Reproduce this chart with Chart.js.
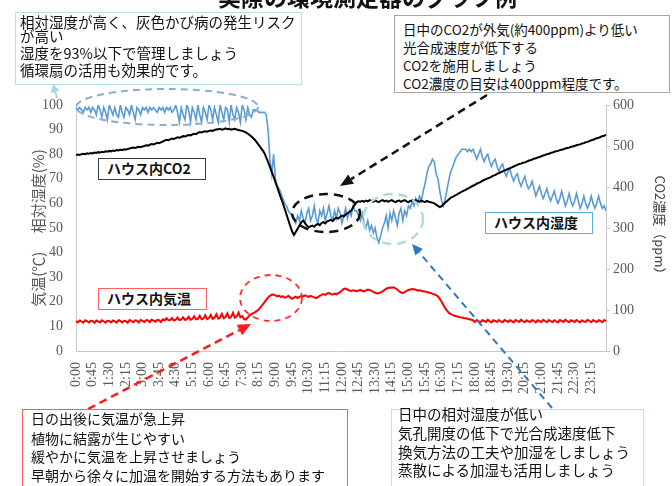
<!DOCTYPE html>
<html><head><meta charset="utf-8">
<script src="https://cdn.jsdelivr.net/npm/chart.js@4.4.1/dist/chart.umd.min.js"></script>
<style>
html,body{margin:0;padding:0;background:#fff;width:672px;height:486px;overflow:hidden;position:relative;font-family:"Noto Sans CJK JP",sans-serif;}
#c{position:absolute;left:0;top:0;}
.title{position:absolute;left:218px;top:-15px;font-size:23px;line-height:23px;font-weight:bold;color:#111;white-space:nowrap;}
.box{position:absolute;background:#fff;box-sizing:border-box;color:#111;}
.box .ln{position:absolute;white-space:nowrap;}
.lg{position:absolute;background:#fff;box-sizing:border-box;font-weight:bold;font-size:14px;line-height:19px;color:#111;white-space:nowrap;}
</style></head>
<body>
<canvas id="c" width="672" height="486"></canvas>
<div class="title">実際の環境測定器のグラフ例</div>

<div class="box" style="left:15px;top:12px;width:287px;height:73px;border:1.5px solid #b9dfe8;font-size:14.5px;">
 <div class="ln" style="left:4px;top:1px;line-height:16px;">相対湿度が高く、灰色かび病の発生リスク</div>
 <div class="ln" style="left:4px;top:15px;line-height:16px;">が高い</div>
 <div class="ln" style="left:4px;top:32px;line-height:16px;">湿度を93%以下で管理しましょう</div>
 <div class="ln" style="left:4px;top:49px;line-height:16px;">循環扇の活用も効果的です。</div>
</div>

<div class="box" style="left:394px;top:15px;width:276px;height:78px;border:1px solid #a6a6a6;font-size:13.5px;">
 <div class="ln" style="left:8px;top:5px;line-height:16px;">日中のCO2が外気(約400ppm)より低い</div>
 <div class="ln" style="left:8px;top:23px;line-height:16px;">光合成速度が低下する</div>
 <div class="ln" style="left:8px;top:41px;line-height:16px;">CO2を施用しましょう</div>
 <div class="ln" style="left:8px;top:59px;line-height:16px;">CO2濃度の目安は400ppm程度です。</div>
</div>

<div class="box" style="left:22px;top:409px;width:326px;height:90px;border:1.5px solid #ff5b5b;font-size:14px;">
 <div class="ln" style="left:8px;top:-1px;line-height:18px;">日の出後に気温が急上昇</div>
 <div class="ln" style="left:8px;top:19px;line-height:18px;">植物に結露が生じやすい</div>
 <div class="ln" style="left:8px;top:37px;line-height:18px;">緩やかに気温を上昇させましょう</div>
 <div class="ln" style="left:8px;top:56px;line-height:18px;">早朝から徐々に加温を開始する方法もあります</div>
</div>

<div class="box" style="left:391px;top:409px;width:253px;height:90px;border:1.5px solid #bfe0e8;font-size:14.5px;">
 <div class="ln" style="left:6px;top:-5px;line-height:18px;">日中の相対湿度が低い</div>
 <div class="ln" style="left:6px;top:14px;line-height:18px;">気孔開度の低下で光合成速度低下</div>
 <div class="ln" style="left:6px;top:33px;line-height:18px;">換気方法の工夫や加湿をしましょう</div>
 <div class="ln" style="left:6px;top:51px;line-height:18px;">蒸散による加湿も活用しましょう</div>
</div>

<div class="lg" style="left:98px;top:158px;width:108px;height:22px;border:1.5px solid #3a3a3a;padding-left:8px;">ハウス内CO2</div>
<div class="lg" style="left:98px;top:288px;width:109px;height:22px;border:1.5px solid #ff6060;padding-left:8px;">ハウス内気温</div>
<div class="lg" style="left:485px;top:212px;width:108px;height:22px;border:1.5px solid #5aaee0;padding-left:8px;">ハウス内湿度</div>

<script>
// Tick labels shown every 45 minutes
const tickLabels = ['0:00','0:45','1:30','2:15','3:00','3:45','4:30','5:15','6:00','6:45','7:30','8:15','9:00','9:45','10:30','11:15','12:00','12:45','13:30','14:15','15:00','15:45','16:30','17:15','18:00','18:45','19:30','20:15','21:00','21:45','22:30','23:15'];

// Relative humidity (%), 5-minute readings
const humidity = [
 99,98,99,98,97,99,98,99,97,99,98,96,
 100,98,95,99,97,94,100,98,96,99,96,95,100,97,95,99,98,96,100,97,94,99,98,96,
 99,98,99,97,99,98,99,98,97,99,98,99,97,99,98,99,97,98,
 100,97,93,99,96,94,100,98,93,99,97,94,100,96,93,99,97,94,100,98,94,99,96,93,100,97,94,99,98,93,100,96,94,99,97,93,100,98,94,99,96,95,
 98,98,98,97,97,97,97,96,
 90,78,72,80,70,67,66,64,62,60,59,57,56,55,54,
 52,55,53,57,54,52,56,58,53,55,59,54,52,57,55,58,53,56,59,55,53,57,54,58,56,52,55,58,54,57,55,59,57,
 57,55,53,56,52,50,53,49,51,48,50,46,44,47,50,
 52,55,50,56,53,57,54,51,56,58,53,57,55,59,
 58,61,59,62,60,63,61,65,
 68,72,75,76,78,77,72,70,65,61,59,62,66,70,73,75,77,79,80,81,82,82,82,81,82,81,
 82,80,78,80,82,79,77,79,80,77,75,77,78,75,73,75,
 76,73,71,73,74,71,69,71,72,69,67,69,71,68,66,67,
 69,66,63,65,67,64,62,64,66,63,61,63,65,62,60,62,
 65,62,59,61,64,61,59,61,64,61,58,60,63,60,58,60,
 63,60,58,60,63,60,58,59,57
];

// House CO2 (ppm), 5-minute readings
const co2 = [
 478,479,478,480,481,480,482,481,483,482,484,483,485,484,486,485,487,486,488,487,489,488,490,489,491,490,492,491,493,494,495,
 496,495,497,498,497,499,500,502,501,503,505,504,506,508,507,509,511,513,515,
 514,516,518,517,519,521,520,522,524,523,525,527,526,528,530,529,532,534,
 533,535,536,535,537,538,537,539,540,541,
 542,540,541,543,541,542,540,541,542,540,539,
 538,537,535,533,530,527,523,
 519,514,508,502,496,490,483,472,461,449,437,425,412,399,386,373,361,347,333,319,305,292,283,
 290,298,306,314,318,312,306,302,304,306,303,308,310,307,312,314,311,316,318,320,317,322,325,323,327,330,328,333,336,339,342,350,357,363,365,364,
 366,364,367,365,368,366,364,367,365,363,366,368,365,367,364,366,368,365,363,366,367,364,366,368,365,363,366,367,365,368,366,364,367,365,363,366,364,363,362,
 360,357,354,351,353,358,362,366,370,374,
 376,379,381,384,386,389,391,393,396,398,401,403,405,408,410,412,415,417,
 419,421,423,425,428,429,432,434,436,438,440,442,444,446,448,450,452,454,
 456,457,459,460,462,464,465,467,469,470,472,473,475,477,478,480,481,483,
 484,486,487,488,490,491,492,494,495,496,498,499,500,502,503,504,506,507,
 509,510,512,514,515,517,519,520,522,524,525,527
];

// House air temperature (°C), 5-minute readings
const temperature = [
 12.2,11.6,12.4,12.0,11.5,12.5,12.1,11.6,12.3,12.2,11.5,12.4,12.0,11.6,12.5,12.1,11.5,12.3,12.2,11.6,12.4,12.0,11.5,12.5,
 12.2,11.6,12.3,12.1,11.5,12.6,12.2,11.7,12.5,12.3,11.6,12.7,12.2,11.8,12.6,12.4,11.7,12.8,12.3,11.9,12.7,12.5,11.8,12.9,
 12.4,13.3,12.5,12.6,13.4,12.4,12.7,13.6,12.6,12.8,13.7,12.7,12.9,13.9,12.7,13.0,14.1,12.9,13.1,14.3,12.9,
 13.2,14.5,13.0,13.4,14.7,13.1,13.5,14.9,13.2,13.6,15.1,13.3,13.8,15.3,13.4,13.9,15.5,13.6,14.0,15.6,13.7,
 14.2,13.0,12.8,13.6,14.5,15.0,
 15.4,15.8,16.3,17.0,17.8,18.8,19.8,20.8,21.7,22.4,22.9,23.0,
 22.6,22.2,22.5,21.9,22.3,21.6,22.0,22.4,21.8,21.2,21.7,22.1,21.5,
 22.0,22.4,22.2,22.6,22.3,22.0,22.4,22.1,21.8,21.5,21.9,22.4,22.8,23.1,22.8,23.4,23.6,23.2,22.9,23.3,
 23.0,23.5,23.9,24.6,25.2,25.4,25.0,24.6,24.4,24.7,24.5,24.3,24.6,24.8,24.5,24.2,24.6,25.0,24.8,24.4,
 24.0,23.7,23.4,23.6,23.8,24.2,24.8,25.3,25.6,25.8,25.7,25.9,25.5,25.0,24.3,23.8,23.6,23.9,24.4,24.8,
 25.0,25.2,25.1,24.9,24.6,24.7,24.5,24.3,24.2,24.0,23.8,23.6,
 23.2,23.0,22.7,22.2,21.2,20.0,18.6,17.3,16.3,15.5,15.0,14.6,14.3,14.1,13.9,13.7,13.6,13.4,13.3,13.1,12.9,12.7,12.5,
 11.8,12.6,12.1,11.7,12.5,12.2,11.8,12.7,12.1,11.6,12.5,12.2,11.8,12.6,12.0,11.7,12.6,12.2,11.8,12.5,12.1,11.6,12.6,12.2,
 11.8,12.7,12.1,11.7,12.5,12.0,11.8,12.6,12.2,11.6,12.5,12.1,11.8,12.7,12.2,11.7,12.6,12.1,11.8,12.5,12.0,11.6,12.6,12.2,
 11.8,12.7,12.1,11.7,12.5,12.2,11.8,12.6,12.1,11.6,12.5,12.0,11.8,12.7,12.2,11.7,12.6,12.1,11.8,12.5,12.2,11.7,12.6,12.1
];

// categories: one per 5-minute reading
const categories = [];
for (let h = 0; h < 24; h++) for (let m = 0; m < 60; m += 5) categories.push(h + ':' + String(m).padStart(2,'0'));

const tickFont = { family: 'Liberation Serif', size: 14 };

const deco = {
  id: 'deco',
  afterDraw(chart) {
    const ca = chart.chartArea, ctx = chart.ctx;
    const P = (x, y) => [ca.left + (x - 76) * ca.width / 530, ca.top + (y - 105) * ca.height / 246];
    function ellipse(x, y, rx, ry, color, w, dash) {
      const [cx, cy] = P(x, y);
      ctx.save(); ctx.strokeStyle = color; ctx.lineWidth = w; ctx.setLineDash(dash);
      ctx.beginPath(); ctx.ellipse(cx, cy, rx, ry, 0, 0, Math.PI * 2); ctx.stroke(); ctx.restore();
    }
    function arrow(x1, y1, x2, y2, color, w, dash, hl, hw) {
      const [ax, ay] = P(x1, y1), [bx, by] = P(x2, y2);
      const ang = Math.atan2(by - ay, bx - ax);
      const ex = bx - Math.cos(ang) * hl, ey = by - Math.sin(ang) * hl;
      ctx.save(); ctx.strokeStyle = color; ctx.fillStyle = color; ctx.lineWidth = w; ctx.setLineDash(dash);
      ctx.beginPath(); ctx.moveTo(ax, ay); ctx.lineTo(ex, ey); ctx.stroke();
      ctx.setLineDash([]);
      ctx.beginPath(); ctx.moveTo(bx, by);
      ctx.lineTo(ex + Math.sin(ang) * hw / 2, ey - Math.cos(ang) * hw / 2);
      ctx.lineTo(ex - Math.sin(ang) * hw / 2, ey + Math.cos(ang) * hw / 2);
      ctx.closePath(); ctx.fill(); ctx.restore();
    }
    ellipse(167, 107, 91, 18, '#8eaad6', 2, [7, 5]);
    ellipse(326, 213, 34, 19, '#111111', 2.5, [9, 6]);
    ellipse(393, 219, 30, 25, '#b5dccf', 2.5, [9, 6]);
    ellipse(271, 298, 31, 23, '#ff3030', 1.8, [6, 5]);
    arrow(487, 95, 340, 186, '#111111', 2.5, [8, 5], 13, 11);
    arrow(552, 408, 412, 244, '#2f78c0', 2, [7, 5], 11, 10);
    arrow(88, 409, 251, 324, '#ff1a1a', 2.5, [8, 5], 13, 12);
    arrow(57, 98, 53, 84, '#a8d4ea', 2, [], 8, 9);
  }
};

new Chart(document.getElementById('c'), {
  type: 'line',
  data: {
    labels: categories,
    datasets: [
      { label: 'ハウス内CO2', data: co2, yAxisID: 'y2', borderColor: '#000000', borderWidth: 2, pointRadius: 0, tension: 0 },
      { label: 'ハウス内湿度', data: humidity, yAxisID: 'y', borderColor: '#5b9bd5', borderWidth: 1.6, pointRadius: 0, tension: 0 },
      { label: 'ハウス内気温', data: temperature, yAxisID: 'y', borderColor: '#ff0000', borderWidth: 2, pointRadius: 0, tension: 0 }
    ]
  },
  options: {
    responsive: false,
    devicePixelRatio: 1,
    animation: false,
    layout: { padding: { top: 105, left: 0, right: 0, bottom: 0 } },
    plugins: { legend: { display: false }, tooltip: { enabled: false } },
    scales: {
      x: {
        type: 'category',
        offset: false,
        grid: { display: false, drawTicks: false },
        border: { display: true, color: '#c8c8c8', width: 1 },
        ticks: {
          autoSkip: false, minRotation: 90, maxRotation: 90, padding: 11,
          color: '#595959', font: tickFont,
          callback: (v, i) => (i % 9 === 0 ? tickLabels[i / 9] : '')
        },
        afterFit: s => { s.height = 135; }
      },
      y: {
        position: 'left', min: 0, max: 100,
        grid: { display: false, drawTicks: false },
        border: { display: true, color: '#c8c8c8', width: 1 },
        ticks: { stepSize: 10, padding: 13, color: '#595959', font: tickFont },
        title: { display: true, text: '気温(℃)　 相対湿度(%)', color: '#595959', padding: { top: 29, bottom: 0 }, font: { family: 'Noto Sans CJK JP', size: 15 } },
        afterFit: s => { s.width = 76; }
      },
      y2: {
        position: 'right', min: 0, max: 600,
        grid: { display: true, drawOnChartArea: false, drawTicks: true, tickLength: 4, color: '#c8c8c8' },
        border: { display: true, color: '#c8c8c8', width: 1 },
        ticks: { stepSize: 100, padding: 3, color: '#595959', font: tickFont },
        title: { display: true, text: 'CO2濃度（ppm）', color: '#404040', padding: { top: 4, bottom: 0 }, font: { family: 'Noto Sans CJK JP', size: 13 } },
        afterFit: s => { s.width = 66; }
      }
    }
  },
  plugins: [deco]
});
</script>
</body></html>
